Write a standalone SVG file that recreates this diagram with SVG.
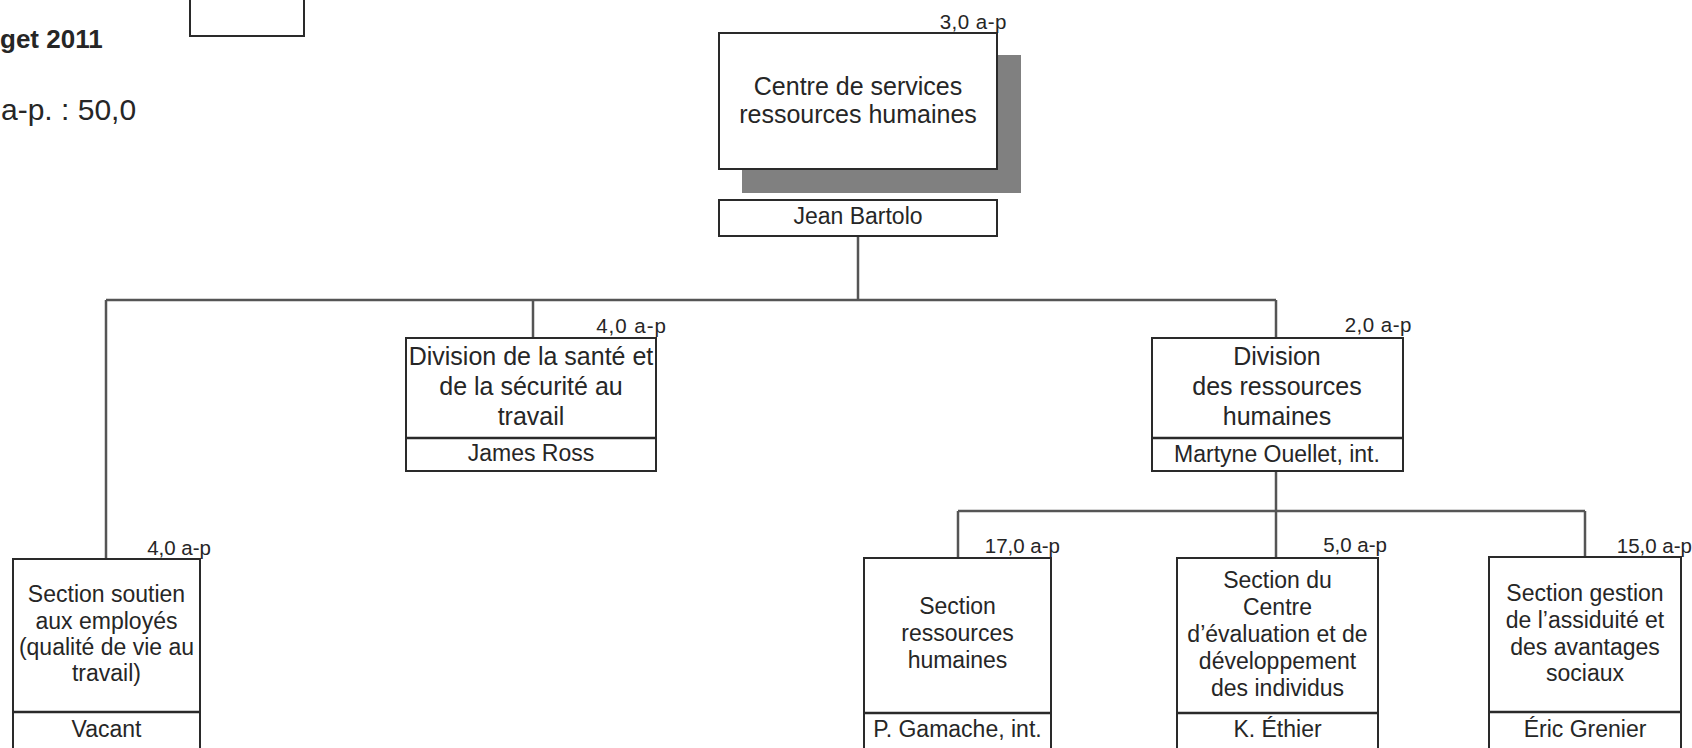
<svg xmlns="http://www.w3.org/2000/svg" width="1692" height="748" viewBox="0 0 1692 748">
<style>
text{font-family:"Liberation Sans",Arial,sans-serif;fill:#262626}
.box{fill:#fff;stroke:#2a2a2a;stroke-width:2}
.div{stroke:#2a2a2a;stroke-width:2.5}
.t{font-size:25px;text-anchor:middle}
.s{font-size:23px;text-anchor:middle}
.n{font-size:23px;text-anchor:middle}
.lab{font-size:20.5px;text-anchor:end}
.con{fill:none;stroke:#555;stroke-width:2.5}
</style>
<rect width="1692" height="748" fill="#fff"/>
<g id="legend">
<rect class="box" x="190" y="-5" width="114" height="41"/>
<text x="0" y="48" font-size="26" font-weight="bold">get 2011</text>
<text x="1" y="120" font-size="30">a-p. : 50,0</text>
</g>
<g id="connectors">
<path class="con" d="M858 236V300M106 300H1276M106 300V559M533 300V338M1276 300V338"/>
<path class="con" d="M1276 471V511M958 511H1585M958 511V558M1276 511V558M1585 511V557"/>
</g>
<g id="centre">
<rect x="742" y="55" width="279" height="138" fill="#808080"/>
<rect class="box" x="719" y="33" width="278" height="136"/>
<text class="t" x="858" y="95">Centre de services</text>
<text class="t" x="858" y="123">ressources humaines</text>
<rect class="box" x="719" y="200" width="278" height="36"/>
<text class="n" x="858" y="224">Jean Bartolo</text>
<text class="lab" x="1007" y="29" font-size="22.5" letter-spacing="0.5">3,0 a-p</text>
</g>
<g id="sante">
<rect class="box" x="406" y="338" width="250" height="133"/>
<line class="div" x1="406" y1="438" x2="656" y2="438"/>
<text class="t" x="531" y="365">Division de la santé et</text>
<text class="t" x="531" y="395">de la sécurité au</text>
<text class="t" x="531" y="425">travail</text>
<text class="n" x="531" y="461">James Ross</text>
<text class="lab" x="667" y="333" font-size="22.5" letter-spacing="1">4,0 a-p</text>
</g>
<g id="drh">
<rect class="box" x="1152" y="338" width="251" height="133"/>
<line class="div" x1="1152" y1="438" x2="1403" y2="438"/>
<text class="t" x="1277" y="365">Division</text>
<text class="t" x="1277" y="395">des ressources</text>
<text class="t" x="1277" y="425">humaines</text>
<text class="n" x="1277" y="462">Martyne Ouellet, int.</text>
<text class="lab" x="1412" y="332" font-size="22" letter-spacing="0.5">2,0 a-p</text>
</g>
<g id="soutien">
<rect class="box" x="13" y="559" width="187" height="200"/>
<line class="div" x1="13" y1="712" x2="200" y2="712"/>
<text class="s" x="106.5" y="602">Section soutien</text>
<text class="s" x="106.5" y="628.5">aux employés</text>
<text class="s" x="106.5" y="655">(qualité de vie au</text>
<text class="s" x="106.5" y="681">travail)</text>
<text class="n" x="106.5" y="737">Vacant</text>
<text class="lab" x="211" y="555">4,0 a-p</text>
</g>
<g id="srh">
<rect class="box" x="864" y="558" width="187" height="200"/>
<line class="div" x1="864" y1="713" x2="1051" y2="713"/>
<text class="s" x="957.5" y="614">Section</text>
<text class="s" x="957.5" y="641">ressources</text>
<text class="s" x="957.5" y="668">humaines</text>
<text class="n" x="957.5" y="737">P. Gamache, int.</text>
<text class="lab" x="1060" y="553">17,0 a-p</text>
</g>
<g id="sced">
<rect class="box" x="1177" y="558" width="201" height="200"/>
<line class="div" x1="1177" y1="713" x2="1378" y2="713"/>
<text class="s" x="1277.5" y="588">Section du</text>
<text class="s" x="1277.5" y="615">Centre</text>
<text class="s" x="1277.5" y="642">d’évaluation et de</text>
<text class="s" x="1277.5" y="669">développement</text>
<text class="s" x="1277.5" y="696">des individus</text>
<text class="n" x="1277.5" y="737">K. Éthier</text>
<text class="lab" x="1387" y="552">5,0 a-p</text>
</g>
<g id="sgestion">
<rect class="box" x="1489" y="557" width="192" height="200"/>
<line class="div" x1="1489" y1="712" x2="1681" y2="712"/>
<text class="s" x="1585" y="601">Section gestion</text>
<text class="s" x="1585" y="628">de l’assiduité et</text>
<text class="s" x="1585" y="655">des avantages</text>
<text class="s" x="1585" y="681">sociaux</text>
<text class="n" x="1585" y="737">Éric Grenier</text>
<text class="lab" x="1692" y="553" font-size="21">15,0 a-p</text>
</g>
</svg>
